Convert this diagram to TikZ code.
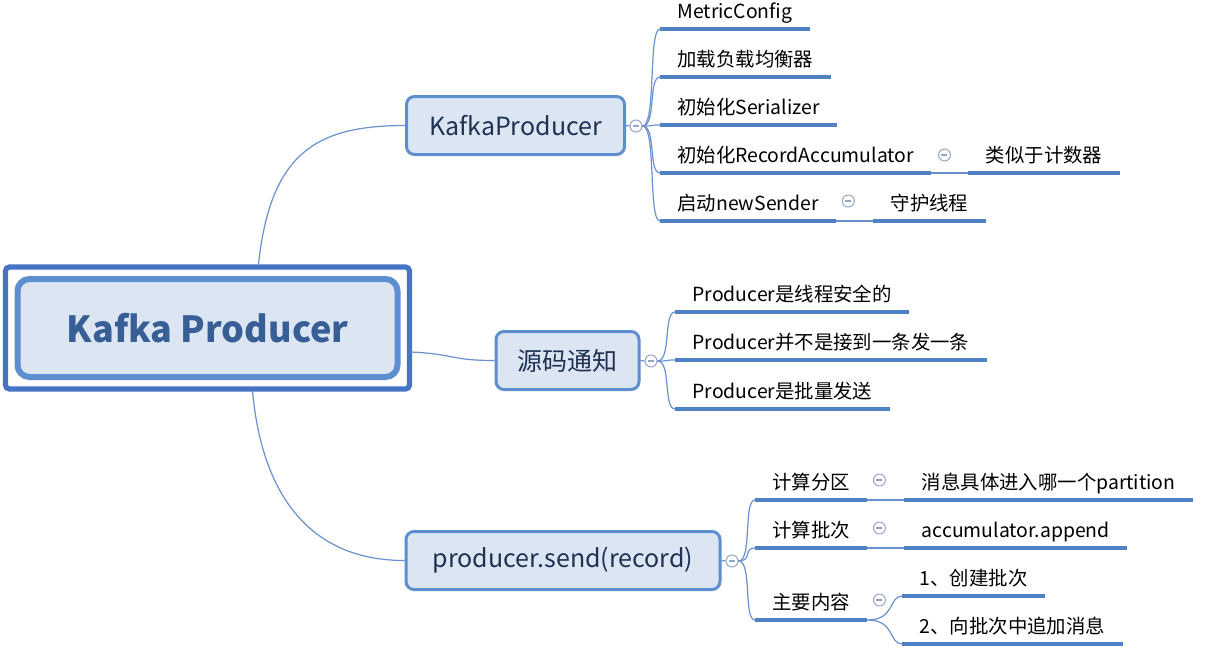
\documentclass[tikz,border=0pt]{standalone}
\usepackage{fontspec}
\setmainfont{Noto Sans CJK SC}
\usetikzlibrary{calc,positioning}
\definecolor{lineblue}{RGB}{80,130,195}
\definecolor{thinblue}{RGB}{105,145,205}
\definecolor{boxblue}{RGB}{95,142,208}
\definecolor{boxfill}{RGB}{220,230,242}
\definecolor{rootblue}{RGB}{70,115,195}
\definecolor{roottext}{RGB}{55,95,150}
\definecolor{topictext}{RGB}{30,50,85}
\definecolor{togglegray}{RGB}{150,165,195}
\tikzset{%
  rootbox/.style = { draw=boxblue, fill=boxfill, line width=3pt, rounded corners=6pt, minimum width=190pt, minimum height=49pt, text=roottext, font=\bfseries\fontsize{18}{21}\selectfont },
  rootframe/.style = { draw=rootblue, line width=2.6pt, rounded corners=2pt },
  topic/.style = { draw=boxblue, fill=boxfill, line width=1.5pt, rounded corners=4pt, minimum height=29pt, text=topictext, font=\fontsize{12.5}{14}\selectfont },
  leaf/.style = { anchor=south west, inner xsep=8.5pt, inner ysep=3pt, text height=7pt, text depth=2pt, font=\fontsize{9.7}{11}\selectfont },
  uline/.style = { draw=lineblue, line width=2.2pt },
  branch/.style = { draw=thinblue, line width=0.6pt },
  toggle/.style = { circle, draw=togglegray, fill=white, line width=0.5pt, inner sep=0pt, minimum size=6pt,
    path picture={\draw[togglegray,line width=0.6pt] ([xshift=-1.5pt]path picture bounding box.center) -- ([xshift=1.5pt]path picture bounding box.center);} }
}
\begin{document}
\begin{tikzpicture}[x=0.5pt, y=-0.5pt]

  \useasboundingbox (0,0) rectangle (1226,653);

  % Central topic
  \node[rootbox] (root) at (207.5,328) {Kafka Producer};
  \draw[rootframe] ([shift={(-9,9)}]root.south west) rectangle ([shift={(9,-9)}]root.north east);

  % Main topics
  \node[topic, minimum width=109pt] (kp) at (515.5,125.5) {KafkaProducer};
  \node[topic, minimum width=71.5pt] (src) at (567.5,360.5) {源码通知};
  \node[topic, minimum width=157pt] (send) at (563,560.5) {producer.send(record)};

  \draw[branch] ([shift={(51,-12)}]root.north) .. controls +(12,-110) and +(-90,0) .. (kp.west);
  \draw[branch] ([shift={(10,24)}]root.east) .. controls +(45,2) and +(-45,0) .. (src.west);
  \draw[branch] ([shift={(45,11)}]root.south) .. controls +(10,110) and +(-90,0) .. (send.west);

  \node[toggle] (t1) at (636,126) {};
  \node[toggle] (t2) at (651,361) {};
  \node[toggle] (t3) at (732,561) {};
  \draw[branch] (kp.east) -- (t1.west);
  \draw[branch] (src.east) -- (t2.west);
  \draw[branch] (send.east) -- (t3.west);

  % KafkaProducer
  \foreach \i/\y/\txt in {1/29/MetricConfig, 2/77/加载负载均衡器, 3/125/初始化Serializer, 4/173/初始化RecordAccumulator, 5/221/启动newSender} {
    \node[leaf] (m\i) at (660,\y) {\txt};
    \draw[uline] (m\i.south west) -- (m\i.south east);
    \draw[branch] (t1.east) .. controls +(14,0) and +(-12,0) .. (m\i.south west);
  }

  \node[toggle] (t4) at ([shift={(13,-18)}]m4.south east) {};
  \node[leaf] (m4c) at ([xshift=18.5pt]m4.south east) {类似于计数器};
  \draw[branch] (m4.south east) -- (m4c.south west);
  \draw[uline] (m4c.south west) -- (m4c.south east);

  \node[toggle] (t5) at ([shift={(12,-20)}]m5.south east) {};
  \node[leaf] (m5c) at ([xshift=18.5pt]m5.south east) {守护线程};
  \draw[branch] (m5.south east) -- (m5c.south west);
  \draw[uline] (m5c.south west) -- (m5c.south east);

  % 源码通知
  \foreach \i/\y/\txt in {1/312/Producer是线程安全的, 2/360/Producer并不是接到一条发一条, 3/409/Producer是批量发送} {
    \node[leaf] (s\i) at (675,\y) {\txt};
    \draw[uline] (s\i.south west) -- (s\i.south east);
    \draw[branch] (t2.east) .. controls +(14,0) and +(-12,0) .. (s\i.south west);
  }

  % producer.send(record)
  \foreach \i/\y/\txt/\sub in {1/500/计算分区/消息具体进入哪一个partition, 2/548/计算批次/accumulator.append} {
    \node[leaf] (p\i) at (755,\y) {\txt};
    \draw[uline] (p\i.south west) -- (p\i.south east);
    \draw[branch] (t3.east) .. controls +(14,0) and +(-12,0) .. (p\i.south west);
    \node[toggle] (tp\i) at ([shift={(12,-20)}]p\i.south east) {};
    \node[leaf] (p\i c) at ([xshift=18.5pt]p\i.south east) {\sub};
    \draw[branch] (p\i.south east) -- (p\i c.south west);
    \draw[uline] (p\i c.south west) -- (p\i c.south east);
  }

  \node[leaf] (p3) at (755,620) {主要内容};
  \draw[uline] (p3.south west) -- (p3.south east);
  \draw[branch] (t3.east) .. controls +(14,0) and +(-12,0) .. (p3.south west);
  \node[toggle] (tp3) at ([shift={(12,-20)}]p3.south east) {};
  \node[leaf] (q1) at ([shift={(35,-24)}]p3.south east) {1、创建批次};
  \node[leaf] (q2) at ([shift={(35,24)}]p3.south east) {2、向批次中追加消息};
  \draw[uline] (q1.south west) -- (q1.south east);
  \draw[uline] (q2.south west) -- (q2.south east);
  \draw[branch] (p3.south east) .. controls +(28,0) and +(-14,0) .. (q1.south west);
  \draw[branch] (p3.south east) .. controls +(28,0) and +(-14,0) .. (q2.south west);

\end{tikzpicture}
\end{document}
